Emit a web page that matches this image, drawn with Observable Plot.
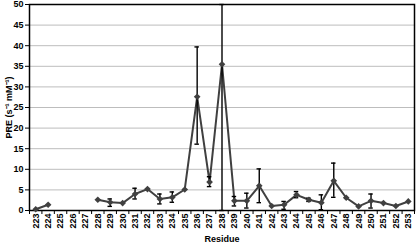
<!DOCTYPE html>
<html>
<head>
<meta charset="utf-8">
<script src="https://cdn.jsdelivr.net/npm/d3@7"></script>
<script src="https://cdn.jsdelivr.net/npm/@observablehq/plot@0.6"></script>
<style>
  html, body { margin: 0; padding: 0; background: white; }
</style>
</head>
<body>
<div id="chart"></div>
<script>
const residues = [223,224,225,226,227,228,229,230,231,232,233,234,235,236,237,238,239,240,241,242,243,244,245,246,247,248,249,250,251,252,253];
const pre =      [0.3,1.4,null,null,null,2.6,2.0,1.8,4.0,5.2,2.8,3.2,5.1,27.6,6.9,35.5,2.35,2.35,6.0,1.1,1.4,3.8,2.6,1.9,7.2,3.1,1.0,2.35,1.8,1.1,2.2];
const errLo =    [null,null,null,null,null,null,1.0,null,2.8,null,1.6,2.0,null,16.1,5.8,0,1.1,0.6,1.9,null,0.3,3.1,2.2,0.2,3.2,null,null,0.6,null,null,null];
const errHi =    [null,null,null,null,null,null,2.8,null,5.4,null,4.0,4.5,null,39.7,8.2,50,3.4,4.2,10.1,null,2.2,4.6,3.0,3.8,11.5,null,null,4.0,null,null,null];
const yTicks = [0,5,10,15,20,25,30,35,40,45,50];
const gridTicks = [5,10,15,20,25,30,35,40,45];

const data = residues.map((r, i) => ({r, v: pre[i], lo: errLo[i], hi: errHi[i]}));
const err = data.filter(d => d.lo != null);
const caps = err.flatMap(d => [{r: d.r, y: d.lo}, {r: d.r, y: d.hi}]);
const capHalf = 0.18;
const boundaries = [...residues.map(r => r - 0.5), residues[residues.length - 1] + 0.5];

const chart = Plot.plot({
  width: 416,
  height: 246,
  marginLeft: 29,
  marginRight: 2,
  marginTop: 4,
  marginBottom: 36,
  style: {fontFamily: "'Liberation Sans', Arial, sans-serif", fontWeight: "bold", fontSize: "9px", background: "white", color: "black"},
  x: {type: "linear", domain: [222.5, 253.5]},
  y: {domain: [0, 50]},
  marks: [
    Plot.gridY(gridTicks, {stroke: "#bdbdbd", strokeOpacity: 1, strokeWidth: 1}),
    Plot.axisY(yTicks, {tickSize: 4, tickPadding: 2, label: "PRE (s⁻¹ mM⁻¹)", labelAnchor: "center", labelArrow: "none", labelOffset: 24}),
    Plot.axisX(residues, {tickSize: 0, tickRotate: -90, tickPadding: 3, label: "Residue", labelAnchor: "center", labelArrow: "none", labelOffset: 31}),
    Plot.axisX(boundaries, {tickSize: 4, tickFormat: () => "", label: null}),
    Plot.frame({stroke: "black", strokeWidth: 1.5}),
    Plot.line(data, {x: "r", y: "v", stroke: "#404040", strokeWidth: 2}),
    Plot.ruleX(err, {x: "r", y1: "lo", y2: "hi", stroke: "black", strokeWidth: 1.4}),
    Plot.ruleY(caps, {y: "y", x1: d => d.r - capHalf, x2: d => d.r + capHalf, stroke: "black", strokeWidth: 1.4}),
    Plot.dot(data.filter(d => d.v != null), {x: "r", y: "v", symbol: "diamond2", r: 3, fill: "#404040", stroke: "none"})
  ]
});
document.getElementById("chart").appendChild(chart);
</script>
</body>
</html>
